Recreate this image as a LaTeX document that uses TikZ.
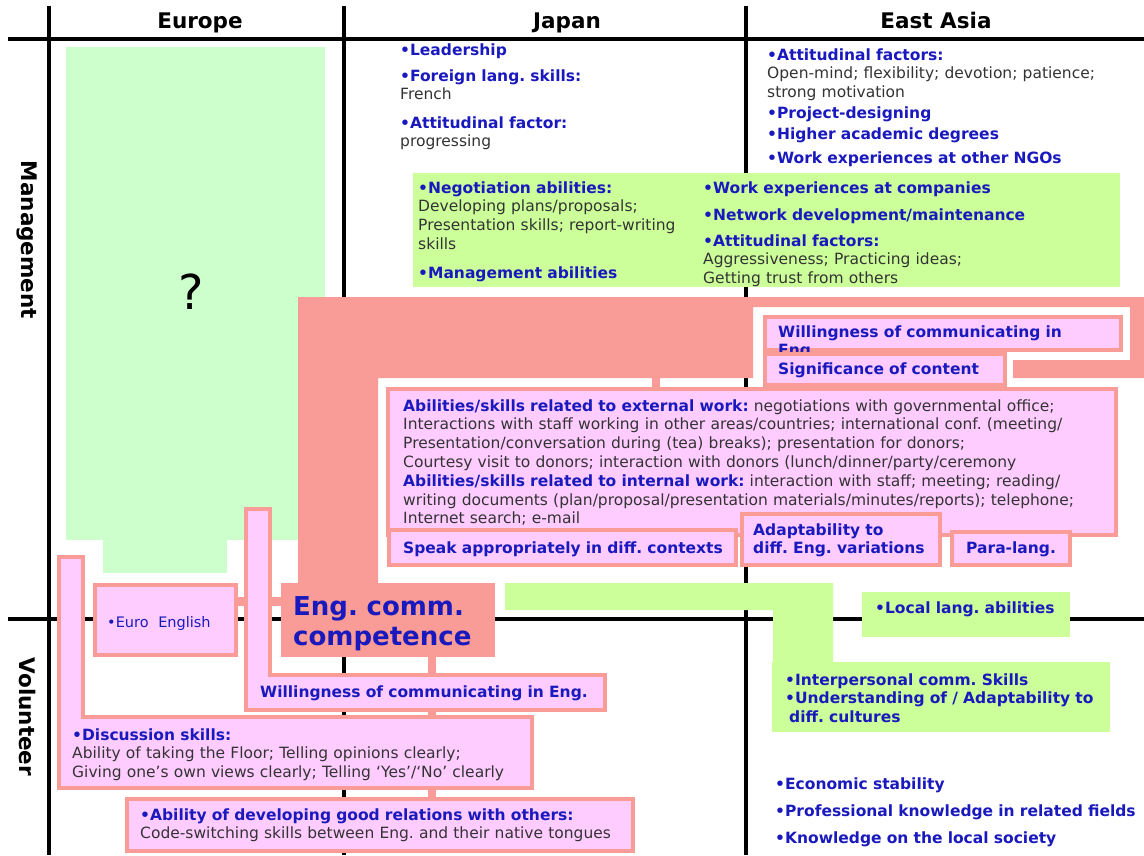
\documentclass[tikz,border=0pt]{standalone}
\usepackage{fontspec}
\setmainfont{DejaVu Sans}
\usetikzlibrary{positioning}
\frenchspacing

\definecolor{salmon}{RGB}{249,155,150}
\definecolor{pinkfill}{RGB}{255,204,255}
\definecolor{mint}{RGB}{204,255,204}
\definecolor{lime}{RGB}{204,255,153}
\definecolor{txtblue}{RGB}{25,25,190}
\definecolor{txtgray}{RGB}{51,51,51}
\newcommand{\kw}[1]{{\color{txtblue}\bfseries #1}}

\begin{document}
\begin{tikzpicture}[x=1pt,y=-1pt,
    grid line/.style={line width=3.5pt},
    pink box/.style={draw=salmon,fill=pinkfill,line width=3.5pt},
    head/.style={anchor=base,inner sep=0pt,font=\fontsize{21.5}{24}\selectfont\bfseries},
    item/.style={anchor=base west,inner sep=0pt,text width=720pt,align=left,
                 text=txtgray,font=\fontsize{15.5}{18.8}\selectfont}]
  \useasboundingbox (0,0) rectangle (1144,855);
  \fill[white] (0,0) rectangle (1144,855);

  % grid
  \draw[grid line] (8,39) -- (1144,39);
  \draw[grid line] (8,619) -- (1144,619);
  \draw[grid line] (49,6) -- (49,855);
  \draw[grid line] (344,6) -- (344,855);
  \draw[grid line] (746,6) -- (746,855);

  \node[head] (europe) at (200,28) {Europe};
  \node[head] (japan) at (567,28) {Japan};
  \node[head] (eastasia) at (936,28) {East Asia};
  \node[head,anchor=center,rotate=-90] (mgmt) at (27,240) {Management};
  \node[head,anchor=center,rotate=-90] (vol) at (28,717) {Volunteer};

  % Europe
  \fill[mint] (66,47) rectangle (325,540);
  \fill[mint] (103,540) rectangle (227,573);
  \node[font=\fontsize{48}{52}\selectfont] (qmark) at (191,292) {?};

  % Japan / East Asia, management
  \node[item] (lead) at (400,55) {\kw{\textbullet Leadership}};
  \node[item] (flang) at (400,81) {\kw{\textbullet Foreign lang. skills:}\\French};
  \node[item] (attjp) at (400,128) {\kw{\textbullet Attitudinal factor:}\\progressing};
  \node[item] (attea) at (767,60) {\kw{\textbullet Attitudinal factors:}\\Open-mind; flexibility; devotion; patience;\\strong motivation};
  \node[item] (proj) at (767,118) {\kw{\textbullet Project-designing}};
  \node[item] (acad) at (767,139) {\kw{\textbullet Higher academic degrees}};
  \node[item] (ngo) at (767,163) {\kw{\textbullet Work experiences at other NGOs}};

  \fill[lime] (413,173) rectangle (1120,287);
  \node[item] (nego) at (418,193) {\kw{\textbullet Negotiation abilities:}\\Developing plans/proposals;\\Presentation skills; report-writing\\skills};
  \node[item] (manab) at (418,278) {\kw{\textbullet Management abilities}};
  \node[item] (comp) at (703,193) {\kw{\textbullet Work experiences at companies}};
  \node[item] (netw) at (703,220) {\kw{\textbullet Network development/maintenance}};
  \node[item] (attit) at (703,246) {\kw{\textbullet Attitudinal factors:}\\Aggressiveness; Practicing ideas;\\Getting trust from others};

  % English communication competence
  \fill[salmon] (298,297) -- (1144,297) -- (1144,378) -- (1013,378) -- (1013,360)
    -- (1130,360) -- (1130,307) -- (753,307) -- (753,378) -- (378,378)
    -- (378,583) -- (298,583) -- cycle;
  \fill[salmon] (652,376) rectangle (660,389);

  \draw[pink box] (765,317) rectangle (1121,350);
  \node[item] (willtop) at (778,337) {\kw{Willingness of communicating in\\Eng.}};
  \draw[pink box] (765,354) rectangle (1005,385);
  \node[item] (signif) at (778,374) {\kw{Significance of content}};
  \draw[pink box] (388,389) rectangle (1116,535);
  \node[item] (abil) at (403,411) {\kw{Abilities/skills related to external work:} negotiations with governmental office;\\
    Interactions with staff working in other areas/countries; international conf. (meeting/\\
    Presentation/conversation during (tea) breaks); presentation for donors;\\
    Courtesy visit to donors; interaction with donors (lunch/dinner/party/ceremony\\
    \kw{Abilities/skills related to internal work:} interaction with staff; meeting; reading/\\
    writing documents (plan/proposal/presentation materials/minutes/reports); telephone;\\
    Internet search; e-mail};
  \draw[pink box] (389,530) rectangle (736,565);
  \node[item] (speak) at (403,553) {\kw{Speak appropriately in diff. contexts}};
  \draw[pink box] (742,514) rectangle (940,565);
  \node[item] (adapt) at (753,535) {\kw{Adaptability to\\diff. Eng. variations}};
  \draw[pink box] (952,532) rectangle (1070,565);
  \node[item] (paralang) at (966,553) {\kw{Para-lang.}};

  % East Asia, volunteer
  \fill[lime] (505,583) -- (833,583) -- (833,662) -- (773,662) -- (773,610) -- (505,610) -- cycle;
  \fill[lime] (862,592) rectangle (1070,637);
  \node[item] (locallang) at (875,613) {\kw{\textbullet Local lang. abilities}};
  \fill[lime] (772,662) rectangle (1110,732);
  \node[item] (interp) at (785,685) {\kw{\textbullet Interpersonal comm. Skills\\\textbullet Understanding of / Adaptability to\\\hspace{4pt}diff. cultures}};
  \node[item] (econ) at (775,789) {\kw{\textbullet Economic stability}};
  \node[item] (prof) at (775,816) {\kw{\textbullet Professional knowledge in related fields}};
  \node[item] (socy) at (775,843) {\kw{\textbullet Knowledge on the local society}};

  % stems
  \fill[salmon] (236,597) rectangle (247,606);
  \fill[salmon] (269,597) rectangle (283,606);
  \fill[salmon] (428,655) rectangle (436,677);
  \fill[salmon] (428,708) rectangle (436,719);
  \fill[salmon] (428,786) rectangle (436,801);

  % Europe / volunteer
  \fill[salmon] (281,583) rectangle (495,657);
  \node[item,font=\fontsize{26}{30}\selectfont\bfseries] (engcomp) at (293,615) {\kw{Eng. comm.\\competence}};
  \draw[pink box] (95,585) rectangle (236,655);
  \node[item,font=\fontsize{14.5}{17}\selectfont] (euro) at (107,627) {{\color{txtblue}\textbullet Euro\ \ English}};
  \draw[pink box] (246,509) -- (270,509) -- (270,675) -- (605,675) -- (605,710) -- (246,710) -- cycle;
  \node[item] (willbot) at (260,697) {\kw{Willingness of communicating in Eng.}};
  \draw[pink box] (59,557) -- (83,557) -- (83,717) -- (532,717) -- (532,788) -- (59,788) -- cycle;
  \node[item] (discuss) at (72,740) {\kw{\textbullet Discussion skills:}\\Ability of taking the Floor; Telling opinions clearly;\\Giving one’s own views clearly; Telling ‘Yes’/‘No’ clearly};
  \draw[pink box] (127,799) rectangle (633,851);
  \node[item] (relat) at (140,820) {\kw{\textbullet Ability of developing good relations with others:}\\Code-switching skills between Eng. and their native tongues};
\end{tikzpicture}
\end{document}
